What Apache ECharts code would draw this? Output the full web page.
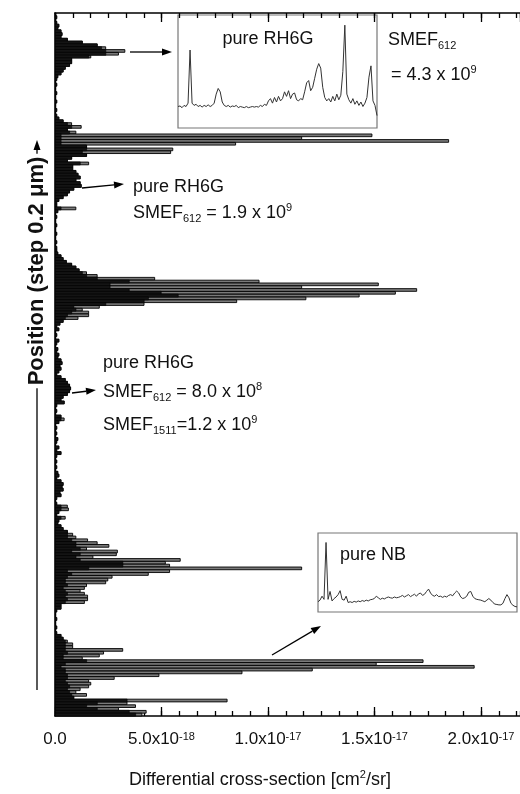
<!DOCTYPE html>
<html>
<head>
<meta charset="utf-8">
<script src="https://cdn.jsdelivr.net/npm/echarts@6/dist/echarts.min.js"></script>
<style>
  html, body { margin: 0; padding: 0; background: #fff; }
  #chart { width: 520px; height: 794px; }
</style>
</head>
<body>
<div id="chart"></div>
<script>
// cross-section per scan position, units of 1e-18 cm^2/sr, listed top -> bottom
var posTop = [0.05, 0.1, 0.05, 0.1, 0.2, 0.15, 0.3, 0.35, 0.3, 0.6,
  1.3, 2.0, 2.4, 3.3, 3.0, 1.7, 0.8, 0.8, 0.7, 0.5,
  0.4, 0.3, 0.15, 0.1, 0.05, 0.1, 0.05, 0.05, 0.1, 0.05,
  0.05, 0.1, 0.05, 0.05, 0.1, 0.05, 0.1, 0.2, 0.4, 0.8,
  1.25, 0.6, 1.0, 14.9, 11.6, 18.5, 8.5, 1.5, 5.55, 5.45];
var posUpper = [1.5, 0.8, 0.6, 1.6, 0.85, 0.85, 1.0, 1.1, 1.2, 1.0,
  1.2, 1.25, 0.9, 0.7, 0.6, 0.4, 0.2, 0.1, 0.1, 1.0,
  0.15, 0.05, 0.1, 0.05, 0.05, 0.1, 0.05, 0.05, 0.1, 0.05,
  0.05, 0.1, 0.05, 0.1, 0.1, 0.15, 0.3, 0.4, 0.55, 0.8,
  1.0, 1.15, 1.5, 2.0, 4.7, 9.6, 15.2, 11.6, 17.0, 16.0];
var posMiddle = [14.3, 11.8, 8.55, 4.2, 2.1, 1.3, 1.6, 1.6, 1.1, 0.4,
  0.25, 0.1, 0.2, 0.05, 0.1, 0.05, 0.2, 0.1, 0.05, 0.15,
  0.1, 0.2, 0.15, 0.3, 0.35, 0.25, 0.3, 0.2, 0.1, 0.3,
  0.5, 0.6, 0.7, 0.75, 0.7, 0.6, 0.4, 0.3, 0.45, 0.1,
  0.05, 0.1, 0.05, 0.3, 0.45, 0.2, 0.05, 0.1, 0.05, 0.1];
var posLower = [0.05, 0.15, 0.1, 0.05, 0.2, 0.1, 0.3, 0.1, 0.05, 0.1,
  0.05, 0.1, 0.05, 0.15, 0.2, 0.1, 0.3, 0.4, 0.35, 0.4,
  0.25, 0.3, 0.1, 0.05, 0.1, 0.6, 0.65, 0.2, 0.1, 0.5,
  0.2, 0.15, 0.3, 0.4, 0.6, 0.85, 1.0, 1.55, 2.0, 2.55,
  1.5, 2.95, 2.9, 1.8, 5.9, 5.2, 5.4, 11.6, 5.4, 4.4];
var posBottom = [2.7, 2.5, 2.4, 1.5, 1.4, 1.2, 1.4, 1.55, 1.55, 1.4,
  0.3, 0.3, 0.1, 0.05, 0.05, 0.1, 0.05, 0.05, 0.1, 0.05,
  0.1, 0.3, 0.4, 0.6, 0.85, 0.85, 3.2, 2.3, 2.1, 1.3,
  17.3, 15.1, 19.7, 12.1, 8.8, 4.9, 2.8, 1.6, 1.7, 1.6,
  1.2, 1.0, 1.5, 0.9, 8.1, 3.4, 3.8, 3.0, 4.3, 4.1];

// black (overdrawn) part of each bar, same units, top -> bottom
var darkTop = [0.05, 0.1, 0.05, 0.1, 0.2, 0.15, 0.3, 0.35, 0.3, 0.6,
  1.3, 2.0, 2.2, 2.4, 2.4, 1.6, 0.8, 0.8, 0.7, 0.5,
  0.4, 0.3, 0.15, 0.1, 0.05, 0.1, 0.05, 0.05, 0.1, 0.05,
  0.05, 0.1, 0.05, 0.05, 0.1, 0.05, 0.1, 0.2, 0.4, 0.6,
  0.8, 0.6, 0.7, 0.3, 0.3, 0.3, 0.3, 1.5, 1.5, 1.3];
var darkUpper = [1.5, 0.8, 0.6, 1.2, 0.85, 0.85, 1.0, 1.1, 1.2, 1.0,
  1.2, 1.25, 0.9, 0.7, 0.6, 0.4, 0.2, 0.1, 0.1, 0.3,
  0.15, 0.05, 0.1, 0.05, 0.05, 0.1, 0.05, 0.05, 0.1, 0.05,
  0.05, 0.1, 0.05, 0.1, 0.1, 0.15, 0.3, 0.4, 0.55, 0.8,
  1.0, 1.15, 1.3, 1.5, 2.0, 3.5, 2.6, 2.6, 3.5, 5.0];
var darkMiddle = [5.8, 4.4, 4.2, 2.4, 0.9, 1.0, 0.8, 0.6, 0.5, 0.4,
  0.25, 0.1, 0.2, 0.05, 0.1, 0.05, 0.2, 0.1, 0.05, 0.15,
  0.1, 0.2, 0.15, 0.3, 0.35, 0.25, 0.3, 0.2, 0.1, 0.3,
  0.5, 0.6, 0.7, 0.75, 0.7, 0.6, 0.4, 0.3, 0.45, 0.1,
  0.05, 0.1, 0.05, 0.3, 0.3, 0.2, 0.05, 0.1, 0.05, 0.1];
var darkLower = [0.05, 0.15, 0.1, 0.05, 0.2, 0.1, 0.3, 0.1, 0.05, 0.1,
  0.05, 0.1, 0.05, 0.15, 0.2, 0.1, 0.3, 0.4, 0.35, 0.4,
  0.25, 0.3, 0.1, 0.05, 0.1, 0.3, 0.3, 0.2, 0.1, 0.3,
  0.2, 0.15, 0.3, 0.4, 0.6, 0.6, 0.6, 0.8, 1.0, 1.0,
  1.2, 0.8, 1.2, 1.0, 1.2, 3.2, 3.2, 1.6, 0.6, 0.8];
var darkBottom = [0.6, 0.5, 0.5, 0.6, 0.4, 0.5, 0.6, 0.5, 0.6, 0.5,
  0.3, 0.3, 0.1, 0.05, 0.05, 0.1, 0.05, 0.05, 0.1, 0.05,
  0.1, 0.3, 0.4, 0.5, 0.5, 0.5, 0.5, 0.6, 0.4, 0.4,
  1.5, 0.5, 0.3, 0.5, 0.5, 0.6, 0.6, 0.5, 0.6, 0.7,
  0.6, 0.7, 0.8, 0.9, 3.4, 2.0, 1.5, 2.0, 3.5, 3.8];

// x tick labels (value = index * 5e-18)
var tickMantissa = ['0.0', '5.0', '1.0', '1.5', '2.0'];
var tickExponent = ['', '-18', '-17', '-17', '-17'];

// inset spectra (relative intensity)
var rh6gSpectrum = [19, 19.5, 18, 20, 19, 22, 69, 22, 20, 21,
  19, 20, 18.5, 20, 19, 20.5, 19, 20, 22, 30,
  35, 32, 23, 20, 19, 20, 18.5, 19.5, 19, 20,
  18, 19, 18.5, 18, 19, 18, 18.5, 19, 18.5, 19,
  18.5, 20, 19, 21, 20, 24, 26, 22, 27, 23,
  28, 24, 26, 32, 28, 33, 26, 30, 31, 25,
  24, 26, 25, 32, 40, 42, 33, 36, 44, 52,
  57, 53, 36, 27, 24, 26, 23, 28, 24, 30,
  25, 29, 50, 91, 30, 25, 22, 26, 21, 24,
  20, 23, 19, 22, 27, 45, 55, 24, 20, 11];
var nbSpectrum = [13, 15, 20, 16, 88, 16, 26, 14, 17, 19,
  22, 27, 16, 15, 20, 12, 13, 12, 13.5, 12.5,
  14, 13, 14.5, 13.5, 15, 14, 15.5, 16, 17, 20,
  18, 16, 17.5, 16.5, 18, 19, 18, 17.5, 19, 18,
  18.5, 19.5, 21, 19, 20.5, 22, 19.5, 21, 22.5, 20,
  23, 24, 21, 22.5, 26, 29, 24, 21, 20, 22,
  19.5, 20, 18.5, 20, 19, 21, 22, 20.5, 24, 26.5,
  24, 19, 17, 18, 20, 25, 26, 20, 17, 16,
  15.5, 15, 14, 13, 15, 17, 15, 12, 10, 9.5,
  9, 9, 11, 17, 22, 18, 11, 8.5, 7, 6.5];

var crossSection = [].concat(posTop, posUpper, posMiddle, posLower, posBottom);
var darkSection = [].concat(darkTop, darkUpper, darkMiddle, darkLower, darkBottom);
var positions = crossSection.map(function (v, i) { return i; });

var FONT = 'Liberation Sans';

function toPairs(arr) {
  return arr.map(function (v, i) { return [i, v]; });
}

function arrow(x1, y1, x2, y2) {
  var a = Math.atan2(y2 - y1, x2 - x1), L = 10, W = 3.5;
  var bx = x2 - L * Math.cos(a), by = y2 - L * Math.sin(a);
  return [
    { type: 'line', shape: { x1: x1, y1: y1, x2: bx, y2: by }, style: { stroke: '#000', lineWidth: 1.3 } },
    { type: 'polygon', shape: { points: [[x2, y2], [bx - W * Math.sin(a), by + W * Math.cos(a)], [bx + W * Math.sin(a), by - W * Math.cos(a)]] }, style: { fill: '#000' } }
  ];
}

var richText = {
  sub: { fontSize: 11, fontFamily: FONT, verticalAlign: 'bottom', lineHeight: 11, fill: '#111' },
  sup: { fontSize: 11, fontFamily: FONT, verticalAlign: 'top', lineHeight: 11, fill: '#111' }
};

function label(txt, x, y, align) {
  return {
    type: 'text', x: x, y: y,
    style: {
      text: txt, x: 0, y: 0, fontSize: 18, fontFamily: FONT, fill: '#111',
      align: align || 'left', textAlign: align || 'left',
      verticalAlign: 'middle', textVerticalAlign: 'middle',
      lineHeight: 22, rich: richText
    }
  };
}

var chart = echarts.init(document.getElementById('chart'), null, { renderer: 'canvas' });

var tickAxis = function (pos, interval, len, withLine) {
  return {
    type: 'value', gridIndex: 0, position: pos, min: 0, max: 21.83, interval: interval,
    axisLine: { show: withLine, lineStyle: { color: '#000', width: 1.5 } },
    axisTick: { show: true, inside: true, length: len, lineStyle: { color: '#000', width: 1.3 } },
    axisLabel: { show: false }, splitLine: { show: false }
  };
};

var bottomAxis = tickAxis('bottom', 5, 9, true);
bottomAxis.axisLabel = {
  show: true, margin: 15, showMaxLabel: false, fontSize: 17, fontFamily: FONT, color: '#111',
  formatter: function (v) {
    var k = Math.round(v / 5);
    if (Math.abs(v - k * 5) > 1e-6 || k >= tickMantissa.length) return '';
    return tickExponent[k] ? tickMantissa[k] + 'x10{sup|' + tickExponent[k] + '}' : tickMantissa[k];
  },
  rich: { sup: { fontSize: 11, fontFamily: FONT, color: '#111', verticalAlign: 'top', lineHeight: 10 } }
};

var graphics = [];
graphics = graphics.concat(arrow(130, 52, 172, 52));
graphics = graphics.concat(arrow(82, 188, 124, 184));
graphics = graphics.concat(arrow(72, 393, 96, 390));
graphics = graphics.concat(arrow(272, 655, 321, 626));
graphics = graphics.concat(arrow(37, 690, 37, 140));
graphics.push({
  type: 'text', x: 37, y: 271, rotation: Math.PI / 2,
  style: {
    text: 'Position (step 0.2 \u03bcm)', x: 0, y: 0, fontSize: 22, fontWeight: 'bold', fontFamily: FONT,
    fill: '#111', align: 'center', textAlign: 'center', verticalAlign: 'middle', textVerticalAlign: 'middle',
    backgroundColor: '#fff', padding: [0, 3]
  }
});
graphics.push(label('pure RH6G', 268, 39, 'center'));
graphics.push(label('SMEF{sub|612}', 388, 40));
graphics.push(label('= 4.3 x 10{sup|9}', 391, 75));
graphics.push(label('pure RH6G', 133, 187));
graphics.push(label('SMEF{sub|612} = 1.9 x 10{sup|9}', 133, 213));
graphics.push(label('pure RH6G', 103, 363));
graphics.push(label('SMEF{sub|612} = 8.0 x 10{sup|8}', 103, 392));
graphics.push(label('SMEF{sub|1511}=1.2 x 10{sup|9}', 103, 425));
graphics.push(label('pure NB', 340, 555));
graphics.push(label('Differential cross-section [cm{sup|2}/sr]', 260, 780, 'center'));

chart.setOption({
  animation: false,
  backgroundColor: '#fff',
  textStyle: { fontFamily: FONT },
  grid: [
    { left: 55, top: 13, width: 466, height: 703 },
    { left: 178, top: 15, width: 199, height: 113, show: true, borderColor: '#777', borderWidth: 1.2, backgroundColor: '#fff' },
    { left: 318, top: 533, width: 199, height: 79, show: true, borderColor: '#777', borderWidth: 1.2, backgroundColor: '#fff' }
  ],
  xAxis: [
    bottomAxis,
    tickAxis('bottom', 5 / 6, 5, false),
    tickAxis('top', 5, 9, true),
    tickAxis('top', 5 / 6, 5, false),
    { type: 'value', gridIndex: 1, min: 0, max: 99, show: false },
    { type: 'value', gridIndex: 2, min: 0, max: 99, show: false }
  ],
  yAxis: [
    {
      type: 'category', gridIndex: 0, inverse: true, data: positions,
      axisLine: { show: true, lineStyle: { color: '#000', width: 1.5 } },
      axisTick: { show: false }, axisLabel: { show: false }, splitLine: { show: false }
    },
    { type: 'value', gridIndex: 1, min: 0, max: 100, show: false },
    { type: 'value', gridIndex: 2, min: 0, max: 100, show: false }
  ],
  series: [
    {
      type: 'bar', xAxisIndex: 0, yAxisIndex: 0, data: crossSection,
      barWidth: 3.6, barGap: '-100%',
      itemStyle: { color: '#7a7a7a', borderColor: '#000', borderWidth: 0.9 }
    },
    {
      type: 'bar', xAxisIndex: 0, yAxisIndex: 0, data: darkSection,
      barWidth: 3.6, barGap: '-100%',
      itemStyle: { color: '#141414', borderColor: '#000', borderWidth: 0.6 }
    },
    {
      type: 'line', xAxisIndex: 4, yAxisIndex: 1, data: toPairs(rh6gSpectrum),
      symbol: 'none', lineStyle: { color: '#333', width: 1 }
    },
    {
      type: 'line', xAxisIndex: 5, yAxisIndex: 2, data: toPairs(nbSpectrum),
      symbol: 'none', lineStyle: { color: '#333', width: 1 }
    }
  ],
  graphic: graphics
});
</script>
</body>
</html>
